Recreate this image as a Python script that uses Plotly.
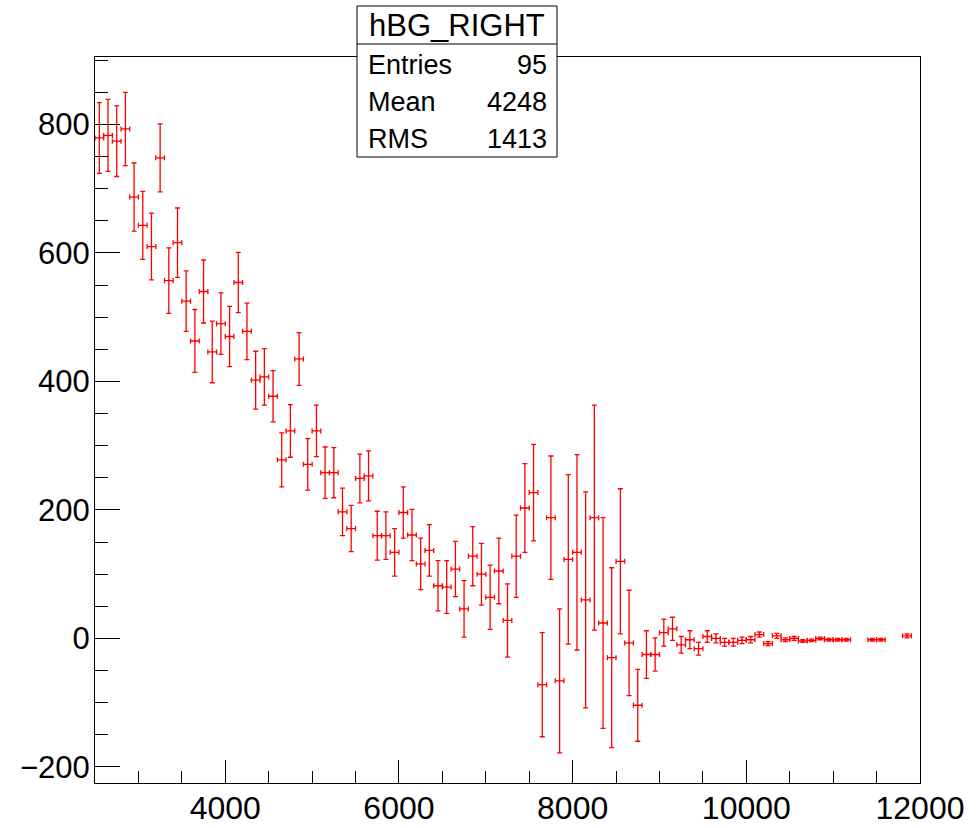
import plotly.graph_objects as go

# Histogram definition: 95 bins of width 100 between 2500 and 12000
N_BINS = 95
X_MIN = 2500.0
X_MAX = 12000.0
BIN_W = (X_MAX - X_MIN) / N_BINS
bin_centers = [X_MIN + BIN_W * (i + 0.5) for i in range(N_BINS)]

# Bin contents (None = empty bin, not drawn)
counts = [
    779, 783, 774, 793, 687, 643, 610, 748, 557, 616,
    525, 463, 540, 446, 490, 470, 554, 478, 402, 407,
    377, 278, 323, 435, 271, 323, 258, 258, 197, 171,
    249, 253, 160, 160, 134, 196, 161, 116, 137, 82,
    80, 108, 46, 128, 100, 64, 105, 28, 128, 203,
    227, -72, 188, -66, 123, 134, 60, 188, 24, -30,
    120, -7, -104, -25, -25, 9, 15, -10, -2, -16,
    3, 0, -6, -6, -3, -2, 6, -8, 4, -2,
    0, -4, -3, 0, -2, -2, -2, None, None, -2,
    -2, None, None, 4, None,
]

# Bin errors
errors = [
    55, 56, 55, 57, 53, 53, 52, 53, 51, 54,
    47, 49, 49, 48, 48, 47, 47, 44, 45, 44,
    40, 42, 41, 41, 40, 40, 40, 39, 37, 36,
    38, 39, 38, 37, 37, 40, 40, 40, 40, 39,
    41, 43, 44, 46, 48, 50, 51, 57, 64, 69,
    75, 81, 96, 112, 132, 152, 168, 175, 164, 140,
    113, 82, 56, 37, 26, 21, 18, 13, 14, 10,
    9, 7, 6, 6, 5, 5, 4, 3, 4, 3,
    3, 2, 2, 2, 2, 2, 2, None, None, 2,
    2, None, None, 3, None,
]

# Statistics box contents
hist_name = "hBG_RIGHT"
stat_labels = ["Entries", "Mean", "RMS"]
stat_values = ["95", "4248", "1413"]

xs = [c for c, v in zip(bin_centers, counts) if v is not None]
ys = [v for v in counts if v is not None]
es = [e for v, e in zip(counts, errors) if v is not None]
half_w = [BIN_W / 2] * len(xs)

RED = "#ff0000"
FONT = "Liberation Sans"

fig = go.Figure()
fig.add_trace(go.Scatter(
    x=xs, y=ys,
    mode="markers",
    marker=dict(color=RED, size=2),
    error_y=dict(type="data", array=es, visible=True, color=RED,
                 thickness=1.3, width=2.5),
    error_x=dict(type="data", array=half_w, visible=True, color=RED,
                 thickness=1.3, width=2.5),
    showlegend=False,
    hoverinfo="x+y",
))

axis_common = dict(
    showline=True, linecolor="black", linewidth=1, mirror=True,
    showgrid=False, zeroline=False, automargin=False,
    ticks="inside", tickcolor="black", tickwidth=1,
)

fig.update_xaxes(
    range=[X_MIN, X_MAX], tick0=4000, dtick=2000, ticklen=23,
    tickformat="d",
    tickfont=dict(family=FONT, size=32, color="black"),
    ticklabelstandoff=-3,
    minor=dict(ticks="inside", dtick=500, ticklen=12, tickcolor="black", tickwidth=1),
    **axis_common,
)
fig.update_yaxes(
    range=[-225, 905], tick0=-200, dtick=200, ticklen=25,
    tickformat="d",
    tickfont=dict(family=FONT, size=31, color="black"),
    ticklabelstandoff=-2,
    minor=dict(ticks="inside", dtick=50, ticklen=13, tickcolor="black", tickwidth=1),
    **axis_common,
)

# Plot area in pixels: x 95..920, y 57..783
L, R, T, B = 95, 920, 57, 783
W_PX, H_PX = 976, 828


def px_x(p):
    return (p - L) / (R - L)


def px_y(p):
    return (B - p) / (B - T)


box_l, box_r = 357, 557
box_t, box_mid, box_b = 6, 44, 157

shapes = [
    dict(type="rect", xref="paper", yref="paper",
         x0=px_x(box_l), x1=px_x(box_r), y0=px_y(box_b), y1=px_y(box_t),
         line=dict(color="black", width=1), fillcolor="white", layer="above"),
    dict(type="line", xref="paper", yref="paper",
         x0=px_x(box_l), x1=px_x(box_r), y0=px_y(box_mid), y1=px_y(box_mid),
         line=dict(color="black", width=1), layer="above"),
]

annotations = [
    dict(text=hist_name, xref="paper", yref="paper",
         x=px_x((box_l + box_r) / 2), y=px_y((box_t + box_mid) / 2),
         xanchor="center", yanchor="middle", showarrow=False,
         font=dict(family=FONT, size=31, color="black")),
]
row_y = [65, 102, 139]
for lab, val, ry in zip(stat_labels, stat_values, row_y):
    annotations.append(dict(text=lab, xref="paper", yref="paper",
                            x=px_x(366), y=px_y(ry), xanchor="left", yanchor="middle",
                            showarrow=False,
                            font=dict(family=FONT, size=27, color="black")))
    annotations.append(dict(text=val, xref="paper", yref="paper",
                            x=px_x(549), y=px_y(ry), xanchor="right", yanchor="middle",
                            showarrow=False,
                            font=dict(family=FONT, size=27, color="black")))

fig.update_layout(
    width=W_PX, height=H_PX,
    margin=dict(l=L, r=W_PX - R, t=T, b=H_PX - B),
    paper_bgcolor="white", plot_bgcolor="white",
    shapes=shapes, annotations=annotations,
    font=dict(family=FONT),
)

fig.write_html("out.html")
